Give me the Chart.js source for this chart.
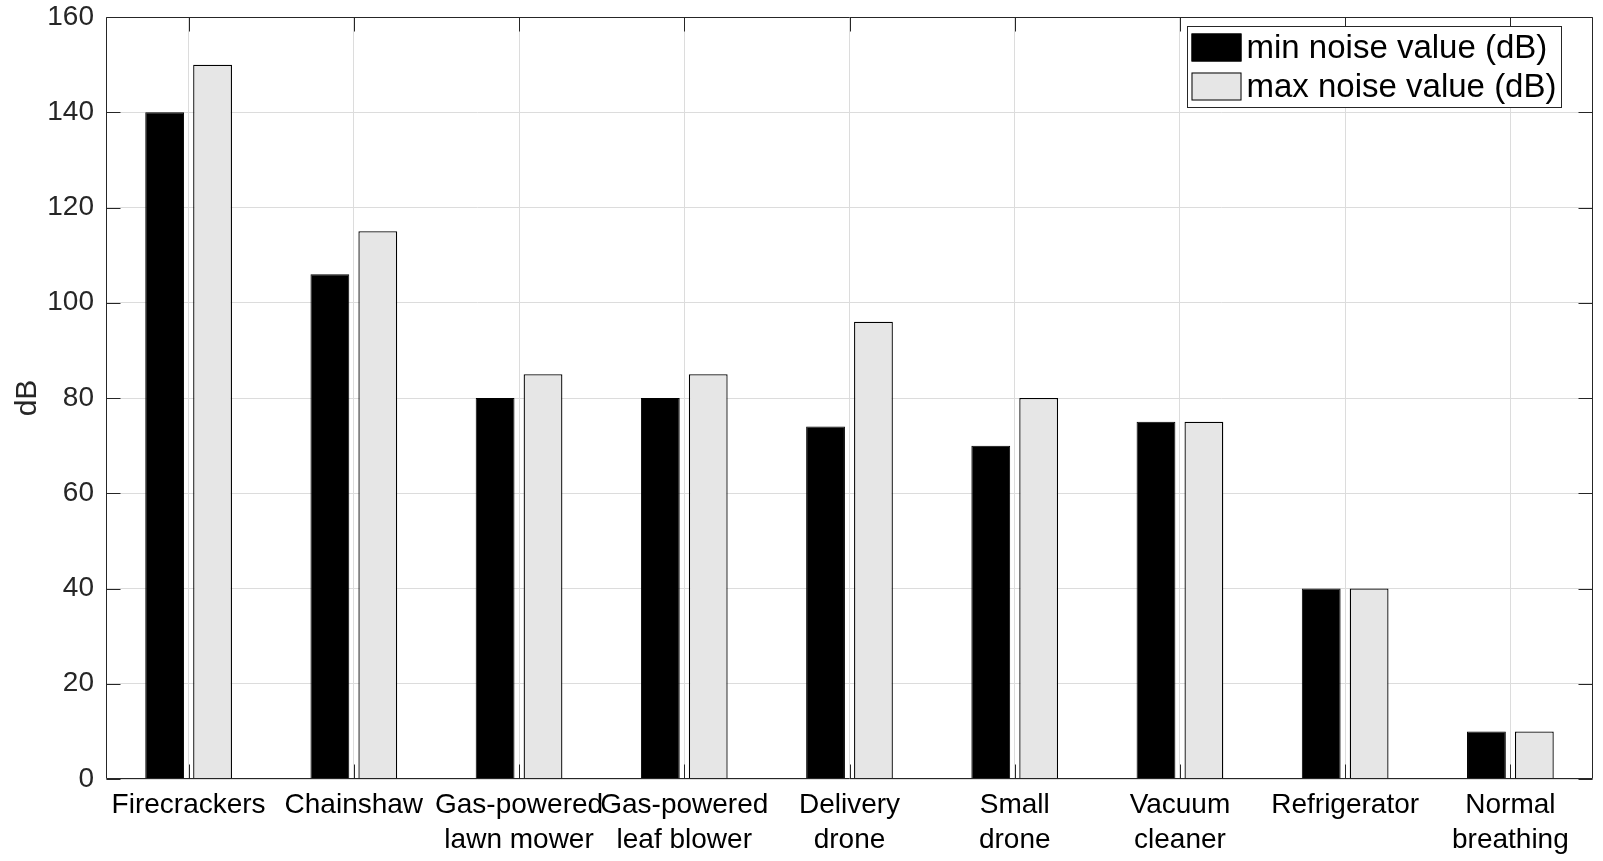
<!DOCTYPE html>
<html>
<head>
<meta charset="utf-8">
<title>Noise levels</title>
<script src="https://cdn.jsdelivr.net/npm/chart.js@4.4.1/dist/chart.umd.min.js"></script>
<style>
  html, body { margin: 0; padding: 0; background: #fff; }
  #wrap { width: 1603px; height: 861px; }
</style>
</head>
<body>
<div id="wrap"><canvas id="noiseChart" width="1603" height="861"></canvas></div>
<script>
// datos del gráfico
const categories = [
  ['Firecrackers'],
  ['Chainshaw'],
  ['Gas-powered', 'lawn mower'],
  ['Gas-powered', 'leaf blower'],
  ['Delivery', 'drone'],
  ['Small', 'drone'],
  ['Vacuum', 'cleaner'],
  ['Refrigerator'],
  ['Normal', 'breathing']
];
const minNoise = [140, 106, 80, 80, 74, 70, 75, 40, 10];
const maxNoise = [150, 115, 85, 85, 96, 80, 75, 40, 10];
const yTickValues = [0, 20, 40, 60, 80, 100, 120, 140, 160];
const seriesNames = ['min noise value (dB)', 'max noise value (dB)'];

const FONT = '"Liberation Sans", Arial, sans-serif';
const AXIS_COLOR = '#262626';
const GRID_COLOR = '#dcdcdc';

// marco de ejes estilo MATLAB con ticks hacia dentro
const framePlugin = {
  id: 'frame',
  afterDatasetsDraw(chart) {
    const { ctx, chartArea: a, scales: { x, y } } = chart;
    const L = Math.round(a.left) + 0.5, R = Math.round(a.right) - 0.5;
    const T = Math.round(a.top) + 0.5, B = Math.round(a.bottom) - 0.5;
    ctx.save();
    ctx.strokeStyle = AXIS_COLOR;
    ctx.lineWidth = 1;
    ctx.beginPath();
    ctx.rect(L, T, R - L, B - T);
    x.ticks.forEach((t, i) => {
      const px = Math.round(x.getPixelForTick(i)) + 0.5;
      ctx.moveTo(px, B); ctx.lineTo(px, B - 14);
      ctx.moveTo(px, T); ctx.lineTo(px, T + 14);
    });
    y.ticks.forEach(t => {
      const py = Math.round(y.getPixelForValue(t.value)) + 0.5;
      ctx.moveTo(L, py); ctx.lineTo(L + 14, py);
      ctx.moveTo(R, py); ctx.lineTo(R - 14, py);
    });
    ctx.stroke();
    ctx.restore();
  }
};

// leyenda dentro del área (arriba a la derecha)
const insideLegend = {
  id: 'insideLegend',
  afterDraw(chart) {
    const { ctx, chartArea: a } = chart;
    const sets = chart.data.datasets;
    ctx.save();
    ctx.font = '33px ' + FONT;
    const textW = Math.max(...sets.map(d => ctx.measureText(d.label).width));
    const rowH = 39;
    const boxW = 4 + 50 + 5 + textW + 6;
    const boxH = 81;
    const right = Math.round(a.right) - 31.5;
    const top = Math.round(a.top) + 9.5;
    const left = Math.round(right - boxW) + 0.5;
    ctx.fillStyle = '#fff';
    ctx.fillRect(left, top, boxW, boxH);
    ctx.strokeStyle = AXIS_COLOR;
    ctx.lineWidth = 1;
    ctx.strokeRect(left, top, right - left, boxH);
    sets.forEach((d, i) => {
      const cy = top + 21 + i * rowH;
      ctx.fillStyle = d.backgroundColor;
      ctx.fillRect(left + 4, cy - 14, 50, 28);
      ctx.strokeStyle = '#000';
      ctx.strokeRect(left + 4.5, cy - 13.5, 49, 27);
      ctx.fillStyle = '#000';
      ctx.textBaseline = 'middle';
      ctx.textAlign = 'left';
      ctx.fillText(d.label, left + 59, cy + 1);
    });
    ctx.restore();
  }
};

const ctx = document.getElementById('noiseChart').getContext('2d');
new Chart(ctx, {
  type: 'bar',
  data: {
    labels: categories,
    datasets: [
      {
        label: seriesNames[0],
        data: minNoise,
        backgroundColor: '#000000',
        borderColor: '#000000',
        borderWidth: 1
      },
      {
        label: seriesNames[1],
        data: maxNoise,
        backgroundColor: '#e6e6e6',
        borderColor: '#000000',
        borderWidth: 1.3
      }
    ]
  },
  options: {
    responsive: false,
    animation: false,
    devicePixelRatio: 1,
    layout: { padding: { left: 0, top: 0, right: 10, bottom: 0 } },
    datasets: {
      bar: { categoryPercentage: 0.58, barPercentage: 0.81 }
    },
    plugins: {
      legend: { display: false },
      tooltip: { enabled: false }
    },
    scales: {
      x: {
        grid: { color: GRID_COLOR, offset: false, drawTicks: false },
        border: { display: false },
        ticks: {
          color: '#000',
          font: { family: FONT, size: 28, lineHeight: 1.25 },
          padding: 9,
          maxRotation: 0,
          autoSkip: false
        },
        afterFit(scale) { scale.height = 82; }
      },
      y: {
        min: 0,
        max: 160,
        grid: { color: GRID_COLOR, drawTicks: false },
        border: { display: false },
        afterBuildTicks(scale) { scale.ticks = yTickValues.map(v => ({ value: v })); },
        ticks: {
          color: AXIS_COLOR,
          font: { family: FONT, size: 28 },
          padding: 12
        },
        title: {
          display: true,
          text: 'dB',
          color: AXIS_COLOR,
          font: { family: FONT, size: 30 },
          padding: { top: 10, bottom: 0 }
        },
        afterFit(scale) {
          scale.width = 106;
          scale.paddingTop = 17;
          scale.paddingBottom = 0;
        }
      }
    }
  },
  plugins: [framePlugin, insideLegend]
});
</script>
</body>
</html>
